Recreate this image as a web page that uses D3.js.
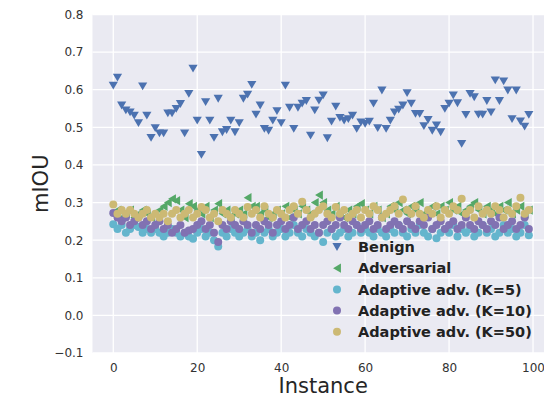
<!DOCTYPE html>
<html>
<head>
<meta charset="utf-8">
<script src="https://cdn.jsdelivr.net/npm/d3@7"></script>
<style>
  body { margin: 0; background: #fff; }
  svg { display: block; font-family: "DejaVu Sans", sans-serif; }
</style>
</head>
<body>
<div id="chart"></div>
<script>
// per-instance mIOU
const benign = [
  0.611, 0.632, 0.558, 0.545, 0.540, 0.531, 0.511, 0.609, 0.531, 0.472,
  0.498, 0.484, 0.484, 0.537, 0.537, 0.549, 0.562, 0.484, 0.589, 0.656,
  0.518, 0.427, 0.567, 0.518, 0.472, 0.576, 0.487, 0.493, 0.518, 0.487,
  0.511, 0.576, 0.587, 0.613, 0.534, 0.558, 0.496, 0.491, 0.518, 0.543,
  0.511, 0.611, 0.552, 0.496, 0.552, 0.563, 0.570, 0.478, 0.545, 0.571,
  0.585, 0.471, 0.515, 0.555, 0.525, 0.518, 0.522, 0.531, 0.496, 0.513,
  0.509, 0.515, 0.563, 0.498, 0.598, 0.496, 0.518, 0.540, 0.547, 0.558,
  0.591, 0.563, 0.536, 0.536, 0.503, 0.520, 0.491, 0.505, 0.487, 0.549,
  0.563, 0.585, 0.564, 0.456, 0.533, 0.589, 0.580, 0.534, 0.534, 0.570,
  0.540, 0.625, 0.570, 0.622, 0.598, 0.522, 0.598, 0.516, 0.502, 0.533
];
const adversarial = [
  0.27, 0.28, 0.26, 0.27, 0.28, 0.26, 0.27, 0.28, 0.27, 0.26,
  0.27, 0.28, 0.29, 0.30, 0.31, 0.305, 0.28, 0.26, 0.297, 0.29,
  0.28, 0.27, 0.29, 0.26, 0.28, 0.297, 0.27, 0.28, 0.26, 0.27,
  0.28, 0.27, 0.313, 0.29, 0.29, 0.27, 0.28, 0.26, 0.27, 0.28,
  0.27, 0.29, 0.26, 0.28, 0.27, 0.29, 0.28, 0.27, 0.30, 0.32,
  0.30, 0.28, 0.27, 0.29, 0.27, 0.26, 0.28, 0.27, 0.29, 0.297,
  0.28, 0.27, 0.29, 0.28, 0.26, 0.27, 0.29, 0.28, 0.30, 0.28,
  0.27, 0.29, 0.28, 0.30, 0.27, 0.28, 0.29, 0.27, 0.29, 0.28,
  0.30, 0.28, 0.29, 0.27, 0.28, 0.29, 0.30, 0.28, 0.27, 0.29,
  0.28, 0.27, 0.29, 0.28, 0.30, 0.27, 0.28, 0.29, 0.27, 0.28
];
const adaptiveK5 = [
  0.242, 0.23, 0.24, 0.22, 0.23, 0.24, 0.235, 0.22, 0.23, 0.22,
  0.23, 0.22, 0.21, 0.22, 0.23, 0.22, 0.21, 0.22, 0.21, 0.204,
  0.22, 0.23, 0.21, 0.22, 0.20, 0.183, 0.22, 0.21, 0.23, 0.22,
  0.21, 0.22, 0.23, 0.21, 0.22, 0.20, 0.22, 0.23, 0.21, 0.22,
  0.23, 0.21, 0.22, 0.24, 0.22, 0.21, 0.23, 0.22, 0.21, 0.22,
  0.195, 0.22, 0.23, 0.21, 0.22, 0.23, 0.21, 0.22, 0.24, 0.22,
  0.23, 0.22, 0.21, 0.23, 0.22, 0.21, 0.23, 0.22, 0.24, 0.22,
  0.21, 0.23, 0.22, 0.24, 0.22, 0.21, 0.23, 0.205, 0.22, 0.23,
  0.22, 0.24, 0.21, 0.23, 0.22, 0.23, 0.21, 0.22, 0.24, 0.22,
  0.23, 0.21, 0.22, 0.24, 0.22, 0.23, 0.21, 0.22, 0.24, 0.213
];
const adaptiveK10 = [
  0.272, 0.26, 0.25, 0.26, 0.24, 0.25, 0.26, 0.24, 0.25, 0.23,
  0.24, 0.25, 0.23, 0.24, 0.22, 0.23, 0.24, 0.22, 0.226, 0.23,
  0.24, 0.25, 0.23, 0.24, 0.22, 0.195, 0.24, 0.23, 0.25, 0.24,
  0.23, 0.25, 0.24, 0.22, 0.24, 0.23, 0.25, 0.24, 0.22, 0.24,
  0.25, 0.23, 0.24, 0.26, 0.23, 0.24, 0.25, 0.23, 0.24, 0.22,
  0.24, 0.25, 0.23, 0.24, 0.26, 0.24, 0.23, 0.25, 0.24, 0.23,
  0.24, 0.25, 0.23, 0.24, 0.26, 0.23, 0.24, 0.25, 0.24, 0.23,
  0.25, 0.24, 0.23, 0.25, 0.24, 0.26, 0.23, 0.24, 0.25, 0.23,
  0.24, 0.25, 0.23, 0.24, 0.26, 0.24, 0.23, 0.25, 0.24, 0.23,
  0.25, 0.24, 0.26, 0.23, 0.24, 0.25, 0.23, 0.24, 0.26, 0.23
];
const adaptiveK50 = [
  0.295, 0.27, 0.28, 0.27, 0.28, 0.27, 0.26, 0.27, 0.28, 0.26,
  0.27, 0.26, 0.27, 0.25, 0.27, 0.28, 0.26, 0.27, 0.28, 0.26,
  0.27, 0.288, 0.28, 0.26, 0.27, 0.25, 0.28, 0.27, 0.26, 0.28,
  0.27, 0.26, 0.288, 0.27, 0.28, 0.26, 0.29, 0.27, 0.26, 0.28,
  0.27, 0.26, 0.28, 0.29, 0.27, 0.302, 0.28, 0.26, 0.27, 0.28,
  0.29, 0.27, 0.26, 0.288, 0.27, 0.28, 0.26, 0.27, 0.28, 0.26,
  0.28, 0.27, 0.29, 0.28, 0.26, 0.27, 0.28, 0.29, 0.27, 0.308,
  0.28, 0.27, 0.29, 0.27, 0.26, 0.28, 0.27, 0.29, 0.26, 0.28,
  0.27, 0.29, 0.28, 0.31, 0.27, 0.28, 0.26, 0.29, 0.27, 0.28,
  0.27, 0.29, 0.28, 0.26, 0.28, 0.27, 0.29, 0.313, 0.27, 0.28
];

const seriesNames = ["Benign", "Adversarial", "Adaptive adv. (K=5)", "Adaptive adv. (K=10)", "Adaptive adv. (K=50)"];
const xTicks = [0, 20, 40, 60, 80, 100];
const yTicks = [-0.1, 0.0, 0.1, 0.2, 0.3, 0.4, 0.5, 0.6, 0.7, 0.8];

const width = 544;
const height = 399;
const plot = { left: 92.5, right: 549.6, top: 14.5, bottom: 353 };

const series = [
  { name: seriesNames[0], values: benign, color: "#4C72B0", shape: "down" },
  { name: seriesNames[1], values: adversarial, color: "#55A868", shape: "left" },
  { name: seriesNames[2], values: adaptiveK5, color: "#64B5CD", shape: "circle" },
  { name: seriesNames[3], values: adaptiveK10, color: "#8172B2", shape: "circle" },
  { name: seriesNames[4], values: adaptiveK50, color: "#CCB974", shape: "circle" }
];

const svg = d3.select("#chart").append("svg")
    .attr("width", width)
    .attr("height", height);

// scales
const x = d3.scaleLinear().domain([-4.95, 103.95]).range([plot.left, plot.right]);
const y = d3.scaleLinear().domain([-0.1, 0.8]).range([plot.bottom, plot.top]);

// background
svg.append("rect")
    .attr("x", plot.left)
    .attr("y", plot.top)
    .attr("width", plot.right - plot.left)
    .attr("height", plot.bottom - plot.top)
    .attr("fill", "#EAEAF2");

// grid
svg.append("g")
    .selectAll("line")
    .data(xTicks)
    .join("line")
    .attr("x1", d => x(d)).attr("x2", d => x(d))
    .attr("y1", plot.top).attr("y2", plot.bottom)
    .attr("stroke", "#fff").attr("stroke-width", 1.3);

svg.append("g")
    .selectAll("line")
    .data(yTicks)
    .join("line")
    .attr("x1", plot.left).attr("x2", plot.right)
    .attr("y1", d => y(d)).attr("y2", d => y(d))
    .attr("stroke", "#fff").attr("stroke-width", 1.3);

// axes (labels only, seaborn style)
const fmt = d3.format(".1f");
const xAxis = d3.axisBottom(x).tickValues(xTicks).tickSize(0).tickPadding(10);
const yAxis = d3.axisLeft(y).tickValues(yTicks).tickSize(0).tickPadding(9)
    .tickFormat(d => fmt(d).replace("-", "\u2212"));

svg.append("g")
    .attr("transform", "translate(0," + plot.bottom + ")")
    .call(xAxis)
    .call(g => g.select(".domain").remove())
    .selectAll("text")
    .style("font-family", "DejaVu Sans")
    .style("font-size", "12px")
    .style("fill", "#333");

svg.append("g")
    .attr("transform", "translate(" + plot.left + ",0)")
    .call(yAxis)
    .call(g => g.select(".domain").remove())
    .selectAll("text")
    .style("font-family", "DejaVu Sans")
    .style("font-size", "12px")
    .style("fill", "#333");

// axis titles
svg.append("text")
    .attr("x", (x(0) + x(100)) / 2)
    .attr("y", 393)
    .attr("text-anchor", "middle")
    .style("font-size", "21px")
    .style("fill", "#262626")
    .text("Instance");

svg.append("text")
    .attr("transform", "translate(48," + ((plot.top + plot.bottom) / 2) + ") rotate(-90)")
    .attr("text-anchor", "middle")
    .style("font-size", "21px")
    .style("fill", "#262626")
    .text("mIOU");

// markers
const tri = 4.6;
function markerPath(shape) {
    if (shape === "down") return "M" + (-tri) + "," + (-tri * 0.85) + "L" + tri + "," + (-tri * 0.85) + "L0," + (tri * 0.85) + "Z";
    if (shape === "left") return "M" + (-tri * 0.85) + ",0L" + (tri * 0.85) + "," + (-tri) + "L" + (tri * 0.85) + "," + tri + "Z";
    return null;
}

svg.append("clipPath").attr("id", "plotclip")
    .append("rect")
    .attr("x", plot.left).attr("y", plot.top)
    .attr("width", plot.right - plot.left).attr("height", plot.bottom - plot.top);

const marks = svg.append("g").attr("clip-path", "url(#plotclip)");

series.forEach(s => {
    const g = marks.append("g");
    if (s.shape === "circle") {
        g.selectAll("circle")
            .data(s.values)
            .join("circle")
            .attr("cx", (d, i) => x(i))
            .attr("cy", d => y(d))
            .attr("r", 4)
            .attr("fill", s.color);
    } else {
        g.selectAll("path")
            .data(s.values)
            .join("path")
            .attr("transform", (d, i) => "translate(" + x(i) + "," + y(d) + ")")
            .attr("d", markerPath(s.shape))
            .attr("fill", s.color);
    }
});

// legend
const legend = svg.append("g").attr("transform", "translate(337,247)");
series.forEach((s, i) => {
    const row = legend.append("g").attr("transform", "translate(0," + (i * 21.2) + ")");
    if (s.shape === "circle") {
        row.append("circle").attr("r", 4).attr("fill", s.color);
    } else {
        row.append("path").attr("d", markerPath(s.shape)).attr("fill", s.color);
    }
    row.append("text")
        .attr("x", 21)
        .attr("dy", "0.36em")
        .style("font-size", "14.5px")
        .style("font-weight", "bold")
        .style("fill", "#222")
        .text(s.name);
});
</script>
</body>
</html>
